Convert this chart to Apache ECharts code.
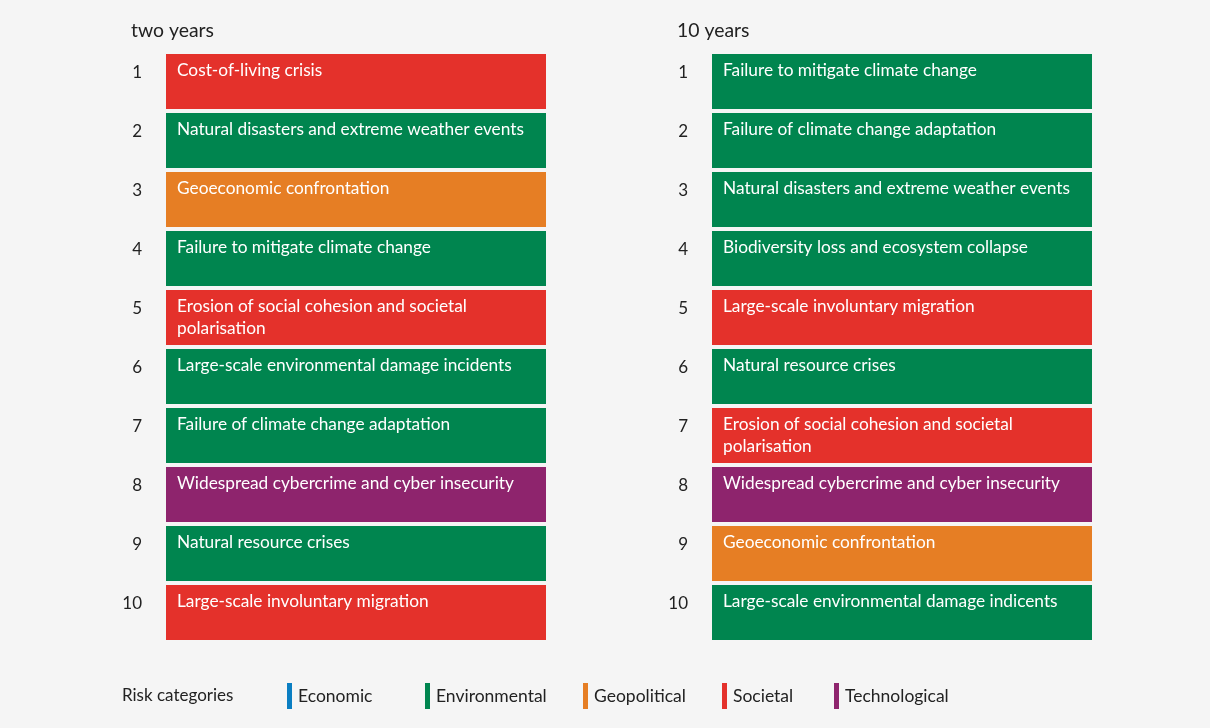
<!DOCTYPE html>
<html><head><meta charset="utf-8">
<script src="https://cdn.jsdelivr.net/npm/echarts@6/dist/echarts.min.js"></script>
<style>html,body{margin:0;padding:0;background:#f5f5f5}#c{width:1210px;height:728px}</style>
</head><body><div id="c"></div>
<script>
const ranks = ['1','2','3','4','5','6','7','8','9','10'];
const categories = ['Economic','Environmental','Geopolitical','Societal','Technological'];
const categoryColors = ['#0a7ec2','#00854f','#e67e24','#e4312b','#8e246d'];
const twoYearRisks = [
  'Cost-of-living crisis',
  'Natural disasters and extreme weather events',
  'Geoeconomic confrontation',
  'Failure to mitigate climate change',
  'Erosion of social cohesion and societal\npolarisation',
  'Large-scale environmental damage incidents',
  'Failure of climate change adaptation',
  'Widespread cybercrime and cyber insecurity',
  'Natural resource crises',
  'Large-scale involuntary migration'
];
const twoYearCats = ['Societal','Environmental','Geopolitical','Environmental','Societal','Environmental','Environmental','Technological','Environmental','Societal'];
const tenYearRisks = [
  'Failure to mitigate climate change',
  'Failure of climate change adaptation',
  'Natural disasters and extreme weather events',
  'Biodiversity loss and ecosystem collapse',
  'Large-scale involuntary migration',
  'Natural resource crises',
  'Erosion of social cohesion and societal\npolarisation',
  'Widespread cybercrime and cyber insecurity',
  'Geoeconomic confrontation',
  'Large-scale environmental damage indicents'
];
const tenYearCats = ['Environmental','Environmental','Environmental','Environmental','Societal','Environmental','Societal','Technological','Geopolitical','Environmental'];
const panelTitles = ['two years','10 years'];
const legendLefts = [282, 420, 578, 717, 829];

const chart = echarts.init(document.getElementById('c'));
const FONT = 'Lato';
const gridLefts = [166, 712];
const panels = [[twoYearRisks, twoYearCats],[tenYearRisks, tenYearCats]];

const series = [];
panels.forEach((p, gi) => {
  categories.forEach((cat, ci) => {
    series.push({
      name: cat, type: 'bar', stack: 'p' + gi,
      xAxisIndex: gi, yAxisIndex: gi,
      barCategoryGap: '7%',
      itemStyle: { color: categoryColors[ci] },
      emphasis: { disabled: true },
      data: p[1].map(c => c === cat ? 1 : '-'),
      label: {
        show: true, position: 'insideTopLeft', distance: 5, offset: [6, 0],
        color: '#fff', fontFamily: FONT, fontSize: 17.3, lineHeight: 22,
        formatter: (prm) => p[0][prm.dataIndex]
      }
    });
  });
});

chart.setOption({
  backgroundColor: '#f5f5f5',
  animation: false,
  title: [
    { text: panelTitles[0], left: 126, top: 16, textStyle: { fontFamily: FONT, fontSize: 19.4, fontWeight: 'normal', color: '#222' } },
    { text: panelTitles[1], left: 672, top: 16, textStyle: { fontFamily: FONT, fontSize: 19.4, fontWeight: 'normal', color: '#222' } },
    { text: 'Risk categories', left: 117, top: 682, textStyle: { fontFamily: FONT, fontSize: 17, fontWeight: 'normal', color: '#222' } }
  ],
  grid: gridLefts.map(l => ({ left: l, width: 380, top: 52, height: 590 })),
  xAxis: gridLefts.map((l, i) => ({ type: 'value', gridIndex: i, min: 0, max: 1, show: false })),
  yAxis: gridLefts.map((l, i) => ({
    type: 'category', gridIndex: i, inverse: true, data: ranks,
    axisLine: { show: false }, axisTick: { show: false }, splitLine: { show: false },
    axisLabel: { margin: 24, color: '#222', fontFamily: FONT, fontSize: 17, verticalAlign: 'bottom', lineHeight: 18 }
  })),
  legend: categories.map((cat, i) => ({
    data: [cat], left: legendLefts[i], top: 678,
    icon: 'rect', itemWidth: 5, itemHeight: 26, itemGap: 0,
    selectedMode: false,
    textStyle: { fontFamily: FONT, fontSize: 17.5, color: '#222', padding: [0, 0, 0, 1] }
  })),
  series: series
});
</script></body></html>
